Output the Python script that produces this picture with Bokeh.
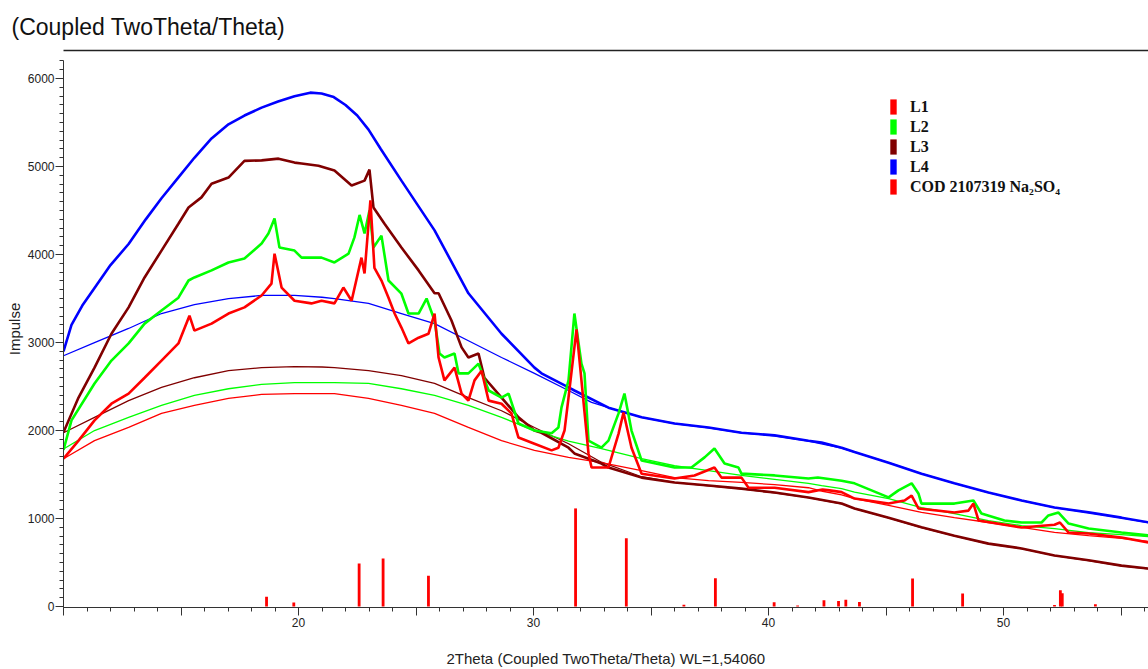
from bokeh.plotting import figure
from bokeh.models import (Range1d, SingleIntervalTicker, FixedTicker, CustomJSTickFormatter, Legend,
                          LegendItem, Title, LinearAxis, ColumnDataSource)
from bokeh.embed import file_html
from bokeh.resources import INLINE

# ---------------- data ----------------
# L1 (red) measured pattern
l1_x = [10.0, 10.64, 11.32, 12.04, 12.77, 13.45, 14.17, 14.89, 15.36, 15.57, 16.30, 17.02, 17.70, 18.43,
        18.85, 18.98, 19.28, 19.83, 20.55, 20.98, 21.53, 21.91, 22.26, 22.68, 22.81, 23.06, 23.23, 23.53,
        23.83, 24.09, 24.38, 24.68, 25.11, 25.53, 25.79, 25.96, 26.21, 26.64, 26.94, 27.23, 27.49, 27.79,
        28.09, 28.64, 29.06, 29.36, 30.04, 30.77, 31.06, 31.32, 31.49, 31.83, 32.04, 32.34, 32.47, 33.19,
        33.62, 33.83, 34.17, 34.60, 36.0, 36.85, 37.70, 38.0, 38.85, 39.15, 40.26, 41.70, 42.30, 42.60,
        43.11, 43.66, 45.11, 45.79, 46.09, 46.38, 47.91, 48.51, 48.72, 48.94, 50.77, 52.17, 52.40, 52.77,
        53.62, 55.02, 56.2]
l1_y = [1680, 1885, 2115, 2305, 2420, 2600, 2795, 2990, 3305, 3135, 3215, 3330, 3400, 3535,
        3670, 4010, 3625, 3475, 3445, 3475, 3445, 3625, 3475, 3965, 3785, 4615, 3850, 3705,
        3510, 3330, 3170, 2990, 3055, 3100, 3330, 2830, 2570, 2715, 2420, 2340, 2570, 2680,
        2340, 2305, 2195, 1920, 1850, 1775, 1805, 2000, 2375, 3150, 2570, 1740, 1580, 1580,
        1965, 2205, 1805, 1510, 1455, 1490, 1580, 1465, 1465, 1350, 1350, 1300, 1330, 1320,
        1300, 1227, 1170, 1205, 1260, 1115, 1068, 1090, 1170, 977, 898, 930, 955, 841,
        830, 785, 727]
# L1 fitted background
bg1_x = [10.0, 11.32, 12.77, 14.17, 15.57, 17.02, 18.43, 19.83, 21.0, 21.53, 22.98, 24.38, 25.79, 27.23,
         28.64, 30.04, 31.49, 32.89, 34.6, 36.0, 37.45, 38.85, 40.26, 41.7, 42.3, 43.11, 43.66, 45.11,
         46.51, 47.91, 49.36, 50.77, 52.17, 53.62, 55.02, 56.2]
bg1_y = [1680, 1885, 2035, 2195, 2285, 2365, 2410, 2420, 2420, 2420, 2365, 2285, 2195, 2035,
         1885, 1775, 1695, 1635, 1545, 1465, 1430, 1410, 1385, 1350, 1310, 1268, 1227, 1150,
         1070, 1010, 955, 900, 842, 806, 775, 740]

# L2 (green) measured pattern
l2_x = [10.0, 10.34, 11.32, 12.04, 12.77, 13.45, 14.17, 14.89, 15.32, 15.57, 16.30, 17.02, 17.70, 18.43,
        18.72, 18.98, 19.19, 19.83, 20.13, 20.98, 21.53, 22.13, 22.38, 22.60, 22.81, 23.02, 23.19, 23.53,
        23.83, 24.38, 24.68, 25.11, 25.45, 25.79, 26.0, 26.21, 26.64, 26.81, 27.23, 27.66, 28.09, 28.64,
        28.94, 29.36, 30.04, 30.77, 31.06, 31.19, 31.49, 31.74, 32.04, 32.17, 32.34, 32.89, 33.19, 33.62,
        33.87, 34.17, 34.60, 36.0, 36.72, 37.28, 37.70, 38.13, 38.72, 38.85, 40.26, 41.70, 42.10, 43.11,
        43.66, 45.11, 45.53, 46.09, 46.38, 46.51, 47.91, 48.72, 49.06, 50.04, 50.77, 51.62, 51.91, 52.34,
        52.77, 53.62, 55.02, 56.2]
l2_y = [1780, 2115, 2535, 2795, 2990, 3215, 3365, 3510, 3705, 3740, 3820, 3910, 3955, 4125,
        4240, 4410, 4080, 4045, 3965, 3965, 3910, 4010, 4195, 4450, 4240, 4500, 4080, 4215,
        3705, 3555, 3330, 3330, 3500, 3250, 2875, 2830, 2875, 2650, 2650, 2760, 2455, 2375,
        2420, 2080, 2000, 1970, 2035, 2260, 2570, 3330, 2760, 2650, 1885, 1805, 1885, 2195,
        2420, 2000, 1660, 1580, 1580, 1695, 1795, 1625, 1580, 1510, 1490, 1455, 1466, 1430,
        1400, 1240, 1320, 1400, 1285, 1170, 1170, 1205, 1057, 977, 955, 955, 1035, 1068,
        943, 886, 841, 807]
# L2 fitted background
bg2_x = [10.0, 11.32, 12.77, 14.17, 15.57, 17.02, 18.43, 19.83, 21.0, 21.53, 22.98, 24.38, 25.79, 27.23,
         28.64, 30.04, 31.49, 32.89, 34.60, 36.0, 37.45, 38.85, 40.26, 41.70, 42.26, 43.11, 43.66, 45.11,
         46.51, 47.91, 49.36, 50.77, 52.17, 53.62, 55.02, 56.2]
bg2_y = [1790, 2000, 2150, 2285, 2400, 2475, 2525, 2545, 2545, 2545, 2535, 2475, 2400, 2285,
         2150, 2000, 1880, 1795, 1680, 1600, 1545, 1490, 1445, 1400, 1375, 1340, 1300, 1227,
         1125, 1057, 977, 920, 886, 841, 818, 795]

# L3 (dark red) measured pattern
l3_x = [10.0, 10.64, 11.32, 12.04, 12.77, 13.45, 14.17, 14.89, 15.32, 15.87, 16.30, 17.02, 17.70, 18.43,
        19.15, 19.83, 20.13, 20.85, 21.53, 22.26, 22.81, 23.02, 23.19, 23.66, 24.38, 25.11, 25.79, 25.96,
        26.51, 26.94, 27.23, 27.66, 27.91, 28.64, 29.36, 30.04, 30.34, 31.49, 31.74, 32.89, 33.19, 34.6,
        36.0, 37.45, 38.85, 40.26, 41.7, 43.11, 43.66, 45.11, 46.51, 47.91, 49.36, 50.77, 52.17, 53.62,
        55.02, 56.2]
l3_y = [1980, 2375, 2715, 3100, 3400, 3740, 4045, 4350, 4535, 4650, 4805, 4875, 5065, 5070,
        5090, 5045, 5035, 5010, 4955, 4785, 4840, 4965, 4535, 4350, 4080, 3820, 3560, 3560,
        3250, 2945, 2830, 2875, 2600, 2375, 2150, 2000, 1975, 1805, 1740, 1625, 1580, 1465,
        1410, 1375, 1340, 1295, 1240, 1170, 1115, 1010, 900, 805, 715, 660, 580, 525,
        465, 430]
# L3 fitted background
bg3_x = [10.0, 11.32, 12.77, 14.17, 15.57, 17.02, 18.43, 19.83, 21.0, 21.53, 22.98, 24.38, 25.79, 27.23,
         28.64, 30.04, 31.49, 32.89, 34.6, 36.0, 37.45, 38.85, 40.26, 41.7, 43.11, 43.66, 45.11, 46.51,
         47.91, 49.36, 50.77, 52.17, 53.62, 55.02, 56.2]
bg3_y = [1975, 2150, 2340, 2490, 2600, 2680, 2715, 2727, 2722, 2716, 2682, 2625, 2535, 2375,
         2225, 2035, 1850, 1640, 1475, 1410, 1372, 1338, 1292, 1238, 1168, 1113, 1008, 898,
         803, 713, 658, 578, 523, 463, 428]

# L4 (blue) measured pattern
l4_x = [10.0, 10.34, 10.8, 11.32, 12.0, 12.77, 13.5, 14.17, 14.9, 15.57, 16.3, 17.02, 17.7, 18.43,
        19.13, 19.83, 20.5, 20.98, 21.5, 22.0, 22.5, 22.98, 23.5, 24.38, 25.79, 27.23, 28.64, 30.04,
        30.34, 31.49, 31.74, 33.19, 34.6, 36.0, 37.45, 38.85, 40.26, 41.7, 42.26, 43.11, 43.66, 45.11,
        46.51, 47.91, 49.36, 50.77, 52.17, 53.62, 55.02, 56.2]
l4_y = [2900, 3200, 3420, 3620, 3880, 4120, 4400, 4640, 4880, 5100, 5320, 5480, 5580, 5670,
        5740, 5800, 5840, 5830, 5790, 5700, 5580, 5420, 5200, 4840, 4275, 3560, 3100, 2715,
        2650, 2490, 2455, 2260, 2150, 2080, 2035, 1975, 1945, 1885, 1864, 1805, 1755, 1635,
        1510, 1400, 1295, 1205, 1125, 1070, 1010, 955]
# L4 fitted background
bg4_x = [10.0, 11.32, 12.77, 14.17, 15.57, 17.02, 18.43, 19.83, 21.0, 21.53, 22.98, 24.38, 25.79, 27.23,
         28.64, 30.04, 31.49, 32.47, 33.19, 34.6, 36.0, 37.45, 38.85, 40.26, 41.7, 43.11, 45.11, 46.51,
         47.91, 49.36, 50.77, 52.17, 53.62, 55.02, 56.2]
bg4_y = [2850, 3000, 3160, 3330, 3430, 3500, 3535, 3535, 3515, 3500, 3445, 3330, 3215, 3020,
         2830, 2650, 2455, 2320, 2260, 2150, 2080, 2030, 1975, 1940, 1880, 1800, 1635, 1510,
         1400, 1295, 1205, 1125, 1068, 1008, 952]

# COD 2107319 Na2SO4 reference sticks
ref_x = [18.64, 19.80, 22.58, 23.60, 25.53, 31.79, 33.95, 36.40, 37.74, 40.24, 41.24, 42.36, 42.98,
         43.29, 43.87, 46.13, 48.26, 52.17, 52.42, 52.50, 53.91]
ref_y = [110, 45, 490, 545, 350, 1115, 775, 20, 320, 50, 12, 72, 62,
         78, 52, 318, 148, 16, 185, 150, 26]

series_labels = ["L1", "L2", "L3", "L4", "COD 2107319 Na\u2082SO\u2084"]
colors = ["#ff0000", "#00ff00", "#800000", "#0000ff", "#ff0000"]
title_text = "(Coupled TwoTheta/Theta)"
x_label = "2Theta (Coupled TwoTheta/Theta) WL=1,54060"
y_label = "Impulse"
y_axis_top = 6205

# ---------------- main plot ----------------
p = figure(width=1148, height=669, x_range=Range1d(10, 56.17), y_range=Range1d(-11, 6319),
           output_backend="svg", toolbar_location=None, title=None,
           min_border_left=63, min_border_right=0, min_border_top=50, min_border_bottom=62)
p.outline_line_color = None
p.grid.visible = False
p.background_fill_color = "white"

# header rule: a bare axis line (no ticks, no labels) along the top of the frame
rule = LinearAxis(ticker=FixedTicker(ticks=[], minor_ticks=[]),
                  axis_line_color="#222222", axis_line_width=1.5,
                  major_tick_line_color=None, minor_tick_line_color=None,
                  major_tick_out=0, minor_tick_out=0, major_tick_in=0, minor_tick_in=0,
                  major_label_standoff=0)
p.add_layout(rule, "above")
# header title
p.add_layout(Title(text=title_text, align="left", offset=-52, standoff=22,
                   text_font="Liberation Sans", text_font_size="23px", text_font_style="normal",
                   text_color="#111111"), "above")

src = {
    "l1": ColumnDataSource(dict(x=l1_x, y=l1_y)),
    "l2": ColumnDataSource(dict(x=l2_x, y=l2_y)),
    "l3": ColumnDataSource(dict(x=l3_x, y=l3_y)),
    "l4": ColumnDataSource(dict(x=l4_x, y=l4_y)),
}
ref_src = ColumnDataSource(dict(x=ref_x, top=ref_y))

stick_r = p.vbar(x="x", top="top", bottom=0, width=0.12, source=ref_src,
                 fill_color=colors[4], line_color=None)

# fitted backgrounds
p.line(bg4_x, bg4_y, line_color=colors[3], line_width=1.3)
p.line(bg3_x, bg3_y, line_color=colors[2], line_width=1.3)
p.line(bg2_x, bg2_y, line_color=colors[1], line_width=1.3)
p.line(bg1_x, bg1_y, line_color=colors[0], line_width=1.3)

# measured patterns
for key, c in [("l4", colors[3]), ("l3", colors[2]), ("l2", colors[1]), ("l1", colors[0])]:
    p.line("x", "y", source=src[key], line_color=c, line_width=2.6)

# legend proxies (hidden bars using the series data) so the legend shows small colour blocks
proxies = []
for key, c in [("l1", colors[0]), ("l2", colors[1]), ("l3", colors[2]), ("l4", colors[3])]:
    r = p.vbar(x="x", top="y", width=0.1, source=src[key], fill_color=c, line_color=None)
    r.visible = False
    proxies.append(r)
proxies.append(stick_r)

legend = Legend(items=[LegendItem(label=lab, renderers=[r]) for lab, r in zip(series_labels, proxies)],
                location=(826, 411), orientation="vertical",
                glyph_width=8, glyph_height=19, label_height=19, spacing=1, padding=0, margin=0,
                label_standoff=13, border_line_color=None, background_fill_alpha=0,
                inactive_fill_alpha=0,
                label_text_font="Liberation Serif", label_text_font_style="bold",
                label_text_font_size="16px", label_text_color="#111111")
p.add_layout(legend)

# axes
xa = p.below[0]
xa.ticker = SingleIntervalTicker(interval=5, num_minor_ticks=5)
xa.formatter = CustomJSTickFormatter(code="return (tick % 10 === 0 && tick > 10) ? tick.toFixed(0) : '';")
ya = p.left[0]
ya.ticker = SingleIntervalTicker(interval=1000, num_minor_ticks=10)
ya.bounds = (-11, y_axis_top)
for ax in (xa, ya):
    ax.axis_line_color = "#333333"
    ax.major_tick_line_color = "#333333"
    ax.minor_tick_line_color = "#333333"
    ax.major_tick_out = 8
    ax.major_tick_in = 0
    ax.minor_tick_out = 4
    ax.minor_tick_in = 0
    ax.major_label_text_font = "Liberation Sans"
    ax.major_label_text_font_size = "12px"
    ax.major_label_text_color = "#222222"
    ax.axis_label_text_font = "Liberation Sans"
    ax.axis_label_text_font_size = "15px"
    ax.axis_label_text_font_style = "normal"
    ax.axis_label_text_color = "#222222"
xa.axis_label = x_label
ya.axis_label = y_label
xa.major_label_standoff = 2
ya.major_label_standoff = 1
xa.axis_label_standoff = 20
ya.axis_label_standoff = 2

open("out.html", "w").write(file_html(p, INLINE))
